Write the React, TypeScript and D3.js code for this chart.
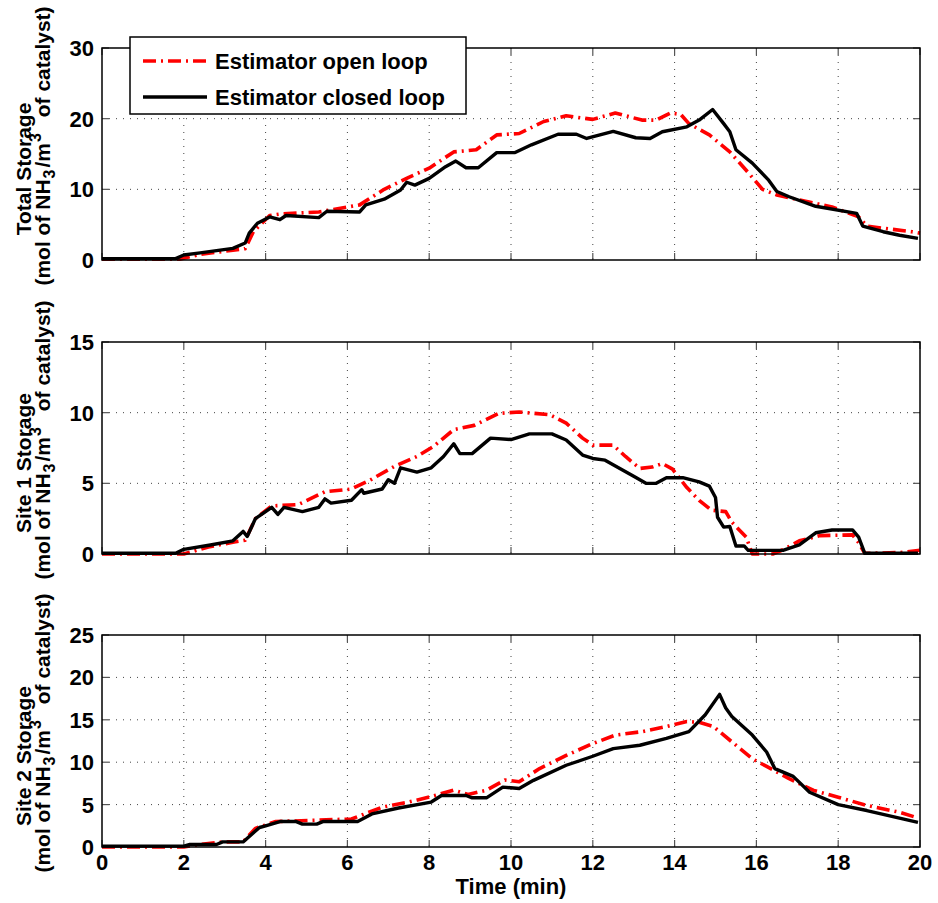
import React from "react";
import * as d3 from "d3";

const xTicks = [0, 2, 4, 6, 8, 10, 12, 14, 16, 18, 20];
const totalTicks = [0, 10, 20, 30];
const site1Ticks = [0, 5, 10, 15];
const site2Ticks = [0, 5, 10, 15, 20, 25];

const totalClosedT = [0,1.8,2,2.4,3.2,3.5,3.6,3.8,4.1,4.35,4.5,5.3,5.5,6.3,6.45,6.9,7.15,7.3,7.45,7.65,8.0,8.4,8.65,8.9,9.2,9.65,10,10.1,10.5,11.15,11.6,11.85,12.5,13.05,13.4,13.7,14.3,14.6,14.93,15.2,15.35,15.5,15.9,16.3,16.5,16.8,17.45,18.45,18.6,19.1,19.5,19.95];
const totalClosedV = [0.2,0.2,0.7,1.0,1.65,2.4,3.8,5.2,6.1,5.7,6.3,6.0,6.9,6.8,7.8,8.6,9.4,9.9,11.0,10.6,11.55,13.2,14.0,13.05,13.05,15.2,15.2,15.2,16.3,17.8,17.8,17.2,18.2,17.3,17.2,18.15,18.85,19.8,21.3,19.3,18.15,15.6,13.7,11.3,9.7,8.95,7.6,6.6,4.8,4.0,3.5,3.05];
const totalOpenT = [0,1.9,2.4,3.2,3.5,3.7,4.1,4.35,5.3,6.3,6.9,7.5,8.0,8.6,9.15,9.65,10.2,10.8,11.35,12.0,12.55,13.2,13.55,13.9,14.15,14.35,14.85,15.35,15.75,16.15,16.5,17.05,17.85,18.5,18.7,19.1,19.8,20];
const totalOpenV = [0.1,0.1,0.8,1.4,1.6,4.0,6.3,6.5,6.8,7.8,10.0,11.7,13.0,15.3,15.6,17.7,17.9,19.6,20.4,19.9,20.8,19.8,19.8,20.8,20.6,19.3,17.7,15.3,12.7,10.0,9.2,8.5,7.5,6.1,4.8,4.5,4.0,3.8];

const site1ClosedT = [0,1.8,2,2.65,3.2,3.45,3.55,3.75,4.15,4.3,4.45,4.9,5.3,5.45,5.6,6.1,6.35,6.4,6.85,7.0,7.15,7.3,7.7,8.05,8.35,8.6,8.75,9.05,9.5,10,10.45,11.0,11.35,11.75,12.0,12.3,13.0,13.3,13.55,13.8,14.2,14.6,14.85,15.0,15.05,15.2,15.35,15.5,15.7,15.8,16.65,17.05,17.45,17.85,18.35,18.5,18.65,19.95];
const site1ClosedV = [0.05,0.05,0.33,0.64,0.93,1.6,1.24,2.5,3.3,2.8,3.3,3.0,3.3,3.9,3.6,3.8,4.55,4.3,4.6,5.25,5.0,6.1,5.8,6.1,6.9,7.8,7.1,7.1,8.2,8.1,8.5,8.5,8.07,7.0,6.76,6.64,5.5,5.0,5.0,5.4,5.4,5.1,4.8,4.0,2.6,1.9,1.95,0.57,0.57,0.26,0.26,0.64,1.5,1.7,1.7,1.2,0.05,0.05];
const site1OpenT = [0,2,2.6,3.2,3.5,3.75,4.15,4.8,5.45,6.1,6.6,7.15,7.7,8.1,8.6,9.1,9.7,10.2,10.95,11.35,11.75,12.0,12.5,12.8,13.15,13.45,13.7,13.95,14.3,14.6,14.9,15.25,15.4,15.75,15.9,16.4,16.65,17.05,17.55,18.35,18.5,18.65,19.5,20];
const site1OpenV = [0.0,0.0,0.5,0.83,0.98,2.5,3.4,3.5,4.4,4.6,5.3,6.2,6.9,7.6,8.8,9.1,9.95,10.05,9.85,9.26,8.2,7.7,7.7,6.9,6.05,6.15,6.4,6.0,4.7,3.8,3.1,3.0,2.25,1.2,0.0,0.0,0.3,0.93,1.3,1.35,0.8,0.05,0.1,0.26];

const site2ClosedT = [0,2,2.15,2.8,2.95,3.45,3.85,4.0,4.35,4.75,4.9,5.25,5.4,6.25,6.6,7.25,8.05,8.3,8.9,9.05,9.4,9.8,10.2,10.55,11.35,12.0,12.5,13.15,13.8,14.35,14.75,15.1,15.25,15.4,15.9,16.25,16.45,16.9,17.3,18.0,18.7,19.95];
const site2ClosedV = [0.1,0.1,0.3,0.3,0.6,0.6,2.3,2.5,3.0,3.0,2.7,2.7,3.0,3.0,3.9,4.6,5.3,6.07,6.07,5.8,5.8,7.06,6.9,7.86,9.64,10.7,11.6,12.0,12.8,13.6,15.6,18.0,16.4,15.4,13.2,11.2,9.25,8.33,6.46,5.0,4.3,2.9];
const site2OpenT = [0,2,2.4,2.95,3.45,3.75,4.25,6.1,6.85,7.5,8.05,8.6,8.95,9.4,9.85,10.2,10.7,11.35,12.0,12.55,13.2,13.8,14.3,14.6,14.95,15.4,15.9,16.25,16.8,17.4,18.0,18.7,19.5,19.9];
const site2OpenV = [0.0,0.0,0.3,0.6,0.6,2.2,3.0,3.3,4.7,5.3,5.95,6.7,6.2,6.7,7.9,7.7,9.25,10.8,12.2,13.2,13.6,14.2,14.8,14.7,14.2,12.4,10.4,9.5,8.06,6.67,5.87,4.9,4.1,3.5];

const legendLabels = ["Estimator open loop", "Estimator closed loop"];
const panelTitles = ["Total Storage", "Site 1 Storage", "Site 2 Storage"];

const zip = (t: number[], v: number[]) => t.map((x, i) => [x, v[i]] as [number, number]);

const panels = [
  { title: panelTitles[0], max: 30, ticks: totalTicks, open: zip(totalOpenT, totalOpenV), closed: zip(totalClosedT, totalClosedV), top: 48 },
  { title: panelTitles[1], max: 15, ticks: site1Ticks, open: zip(site1OpenT, site1OpenV), closed: zip(site1ClosedT, site1ClosedV), top: 342 },
  { title: panelTitles[2], max: 25, ticks: site2Ticks, open: zip(site2OpenT, site2OpenV), closed: zip(site2ClosedT, site2ClosedV), top: 635 },
];

const X0 = 102, X1 = 920, H = 212;
const FONT = "'Liberation Sans', Arial, Helvetica, sans-serif";
const RED_DASH = "13,5,2,5";

export default function App() {
  const x = d3.scaleLinear().domain([0, 20]).range([X0, X1]);
  return (
    <svg width={938} height={903} style={{ position: "absolute", left: 0, top: 0, background: "#fff" }} fontFamily={FONT} fontWeight="bold">
      <rect x={0} y={0} width={938} height={903} fill="#fff" />
      {panels.map((p, pi) => {
        const y = d3.scaleLinear().domain([0, p.max]).range([p.top + H, p.top]);
        const line = d3.line<[number, number]>().x(d => x(d[0])).y(d => y(d[1])).curve(d3.curveLinear);
        const cy = p.top + H / 2;
        return (
          <g key={pi}>
            <defs>
              <clipPath id={`clip${pi}`}>
                <rect x={X0 - 2} y={p.top - 2} width={X1 - X0 + 4} height={H + 4} />
              </clipPath>
            </defs>
            {xTicks.slice(1, -1).map(t => (
              <line key={"gx" + t} x1={x(t)} x2={x(t)} y1={p.top} y2={p.top + H} stroke="#444" strokeWidth={1} strokeDasharray="1,6" />
            ))}
            {p.ticks.slice(1, -1).map(t => (
              <line key={"gy" + t} x1={X0} x2={X1} y1={y(t)} y2={y(t)} stroke="#444" strokeWidth={1} strokeDasharray="1,6" />
            ))}
            {xTicks.map(t => (
              <g key={"tx" + t}>
                <line x1={x(t)} x2={x(t)} y1={p.top + H} y2={p.top + H - 7} stroke="#555" strokeWidth={1.2} />
                <line x1={x(t)} x2={x(t)} y1={p.top} y2={p.top + 7} stroke="#555" strokeWidth={1.2} />
              </g>
            ))}
            {p.ticks.map(t => (
              <g key={"ty" + t}>
                <line x1={X0} x2={X0 + 7} y1={y(t)} y2={y(t)} stroke="#555" strokeWidth={1.2} />
                <line x1={X1} x2={X1 - 7} y1={y(t)} y2={y(t)} stroke="#555" strokeWidth={1.2} />
                <text x={X0 - 8} y={y(t)} dy="0.36em" textAnchor="end" fontSize={22}>{t}</text>
              </g>
            ))}
            <g clipPath={`url(#clip${pi})`}>
              <path d={line(p.open) || ""} fill="none" stroke="#ff0000" strokeWidth={3.6} strokeDasharray={RED_DASH} strokeLinejoin="round" />
              <path d={line(p.closed) || ""} fill="none" stroke="#000" strokeWidth={3.4} strokeLinejoin="round" />
            </g>
            <rect x={X0} y={p.top} width={X1 - X0} height={H} fill="none" stroke="#000" strokeWidth={1.5} />
            <text transform={`translate(31,${cy + 15}) rotate(-90)`} textAnchor="middle" fontSize={21}>{p.title}</text>
            <text transform={`translate(50,${cy - 8}) rotate(-90)`} textAnchor="middle" fontSize={21}>
              <tspan>(mol of NH</tspan>
              <tspan fontSize={16} dy={5} dx={1}>3</tspan>
              <tspan dy={-5} dx={2}>/m</tspan>
              <tspan fontSize={16} dy={-9} dx={1}>3</tspan>
              <tspan dy={9} dx={10}> of catalyst)</tspan>
            </text>
          </g>
        );
      })}
      {xTicks.map(t => (
        <text key={"xl" + t} x={x(t)} y={870} textAnchor="middle" fontSize={22}>{t}</text>
      ))}
      <text x={(X0 + X1) / 2} y={894} textAnchor="middle" fontSize={22}>Time (min)</text>
      <g>
        <rect x={130} y={37} width={336} height={77} fill="#fff" stroke="#000" strokeWidth={1.5} />
        <line x1={143} x2={207} y1={61} y2={61} stroke="#ff0000" strokeWidth={3.6} strokeDasharray={RED_DASH} />
        <line x1={143} x2={207} y1={97} y2={97} stroke="#000" strokeWidth={3.4} />
        <text x={215} y={61} dy="0.36em" fontSize={22}>{legendLabels[0]}</text>
        <text x={215} y={97} dy="0.36em" fontSize={22}>{legendLabels[1]}</text>
      </g>
    </svg>
  );
}
